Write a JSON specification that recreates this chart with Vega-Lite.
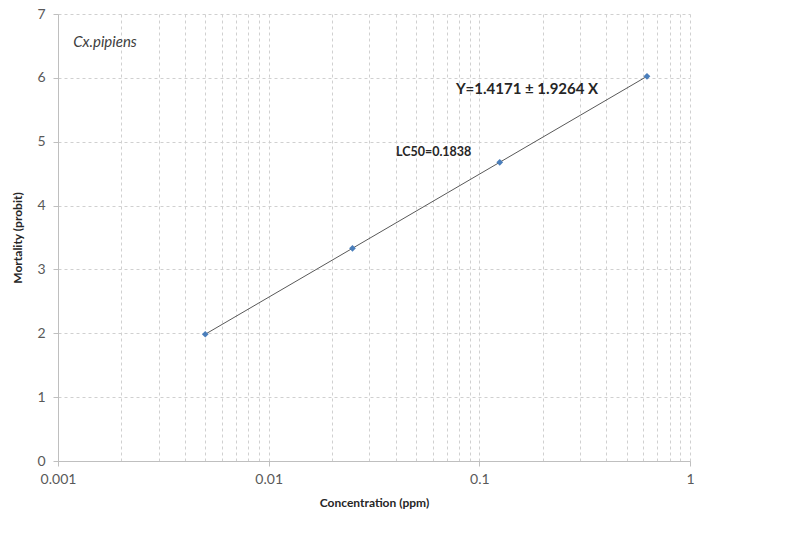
{
  "$schema": "https://vega.github.io/schema/vega-lite/v6.json",
  "width": 632,
  "height": 447,
  "autosize": {"type": "none"},
  "padding": {"left": 58, "top": 14, "right": 98, "bottom": 72},
  "background": "white",
  "config": {
    "view": {"stroke": null},
    "font": "Lato",
    "axis": {
      "labelFont": "Lato",
      "titleFont": "Lato",
      "labelColor": "#595959",
      "labelFontSize": 14,
      "titleColor": "#262626",
      "titleFontSize": 12,
      "titleFontWeight": "bold",
      "domainColor": "#bfbfbf",
      "tickColor": "#bfbfbf",
      "gridColor": "#d0d0d0",
      "gridDash": [3, 3],
      "gridWidth": 1
    }
  },
  "layer": [
    {
      "data": {"values": [
        {"conc": 0.005, "probit": 1.985},
        {"conc": 0.025, "probit": 3.331},
        {"conc": 0.125, "probit": 4.678},
        {"conc": 0.625, "probit": 6.024}
      ]},
      "mark": {"type": "line", "color": "#595959", "strokeWidth": 1},
      "encoding": {
        "x": {
          "field": "conc", "type": "quantitative",
          "scale": {"type": "log", "domain": [0.001, 1], "nice": false},
          "title": "Concentration (ppm)",
          "axis": {
            "values": [0.001, 0.002, 0.003, 0.004, 0.005, 0.006, 0.007, 0.008, 0.009, 0.01, 0.02, 0.03, 0.04, 0.05, 0.06, 0.07, 0.08, 0.09, 0.1, 0.2, 0.3, 0.4, 0.5, 0.6, 0.7, 0.8, 0.9, 1],
            "format": "~g",
            "labelExpr": "indexof(['0.001','0.01','0.1','1'], datum.label) >= 0 ? datum.label : ''",
            "tickOpacity": {"condition": {"test": "abs(log(datum.value)/LN10 - round(log(datum.value)/LN10)) < 1e-6", "value": 1}, "value": 0},
            "tickSize": 5,
            "labelPadding": 6,
            "titlePadding": 11,
            "labelFlush": false,
            "labelOverlap": false,
            "grid": true
          }
        },
        "y": {
          "field": "probit", "type": "quantitative",
          "scale": {"domain": [0, 7], "nice": false},
          "title": "Mortality (probit)",
          "axis": {
            "values": [0, 1, 2, 3, 4, 5, 6, 7],
            "format": "d",
            "tickSize": 5,
            "labelPadding": 8,
            "titlePadding": 12,
            "grid": true
          }
        }
      }
    },
    {
      "data": {"values": [
        {"conc": 0.005, "probit": 1.985},
        {"conc": 0.025, "probit": 3.331},
        {"conc": 0.125, "probit": 4.678},
        {"conc": 0.625, "probit": 6.024}
      ]},
      "mark": {"type": "point", "shape": "diamond", "filled": true, "color": "#4a7ebb", "size": 45, "opacity": 1},
      "encoding": {
        "x": {"field": "conc", "type": "quantitative"},
        "y": {"field": "probit", "type": "quantitative"}
      }
    },
    {
      "data": {"values": [{"label": "Cx.pipiens", "conc": 0.00118, "probit": 6.56}]},
      "mark": {"type": "text", "align": "left", "baseline": "middle", "fontStyle": "italic", "fontSize": 15, "color": "#404040", "font": "Lato"},
      "encoding": {
        "x": {"field": "conc", "type": "quantitative"},
        "y": {"field": "probit", "type": "quantitative"},
        "text": {"field": "label"}
      }
    },
    {
      "data": {"values": [{"label": "Y=1.4171 ± 1.9264 X", "conc": 0.0774, "probit": 5.82}]},
      "mark": {"type": "text", "align": "left", "baseline": "middle", "fontWeight": "bold", "fontSize": 15, "color": "#262626", "font": "Lato"},
      "encoding": {
        "x": {"field": "conc", "type": "quantitative"},
        "y": {"field": "probit", "type": "quantitative"},
        "text": {"field": "label"}
      }
    },
    {
      "data": {"values": [{"label": "LC50=0.1838", "conc": 0.0402, "probit": 4.84}]},
      "mark": {"type": "text", "align": "left", "baseline": "middle", "fontWeight": "bold", "fontSize": 12.5, "color": "#262626", "font": "Lato"},
      "encoding": {
        "x": {"field": "conc", "type": "quantitative"},
        "y": {"field": "probit", "type": "quantitative"},
        "text": {"field": "label"}
      }
    }
  ]
}
